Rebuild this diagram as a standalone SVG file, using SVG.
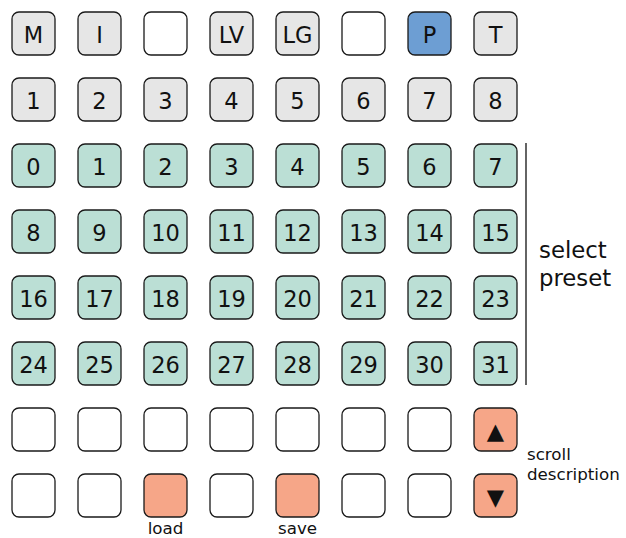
<svg xmlns="http://www.w3.org/2000/svg" width="626" height="538" viewBox="0 0 626 538">
<style>
.b{stroke:#1a1a1a;stroke-width:1.3}
.g{fill:#e6e6e6}.t{fill:#bbdfd5}.w{fill:#ffffff}.p{fill:#6d9ed3}.o{fill:#f6a688}
.l{font-family:"DejaVu Sans",Verdana,sans-serif;font-size:22.5px;fill:#111;text-anchor:middle}
.s{font-family:"DejaVu Sans",Verdana,sans-serif;font-size:16.7px;fill:#111}
.s2{font-family:"DejaVu Sans",Verdana,sans-serif;font-size:22.8px;fill:#111}
</style>
<defs>
<rect id="k" width="43" height="43" rx="7" ry="7"/>
</defs>
<g id="row1">
<g id="btn-M"><use href="#k" x="12" y="12" class="b g"/><text class="l" x="33.5" y="42.5">M</text></g>
<g id="btn-I"><use href="#k" x="78" y="12" class="b g"/><text class="l" x="99.5" y="42.5">I</text></g>
<g id="btn-r1c3"><use href="#k" x="144" y="12" class="b w"/></g>
<g id="btn-LV"><use href="#k" x="210" y="12" class="b g"/><text class="l" x="231.5" y="42.5">LV</text></g>
<g id="btn-LG"><use href="#k" x="276" y="12" class="b g"/><text class="l" x="297.5" y="42.5">LG</text></g>
<g id="btn-r1c6"><use href="#k" x="342" y="12" class="b w"/></g>
<g id="btn-P"><use href="#k" x="408" y="12" class="b p"/><text class="l" x="429.5" y="42.5">P</text></g>
<g id="btn-T"><use href="#k" x="474" y="12" class="b g"/><text class="l" x="495.5" y="42.5">T</text></g>
</g>
<g id="row2">
<g id="btn-1"><use href="#k" x="12" y="78" class="b g"/><text class="l" x="33.5" y="108.5">1</text></g>
<g id="btn-2"><use href="#k" x="78" y="78" class="b g"/><text class="l" x="99.5" y="108.5">2</text></g>
<g id="btn-3"><use href="#k" x="144" y="78" class="b g"/><text class="l" x="165.5" y="108.5">3</text></g>
<g id="btn-4"><use href="#k" x="210" y="78" class="b g"/><text class="l" x="231.5" y="108.5">4</text></g>
<g id="btn-5"><use href="#k" x="276" y="78" class="b g"/><text class="l" x="297.5" y="108.5">5</text></g>
<g id="btn-6"><use href="#k" x="342" y="78" class="b g"/><text class="l" x="363.5" y="108.5">6</text></g>
<g id="btn-7"><use href="#k" x="408" y="78" class="b g"/><text class="l" x="429.5" y="108.5">7</text></g>
<g id="btn-8"><use href="#k" x="474" y="78" class="b g"/><text class="l" x="495.5" y="108.5">8</text></g>
</g>
<g id="presets">
<g id="preset-0"><use href="#k" x="12" y="144" class="b t"/><text class="l" x="33.5" y="174.5">0</text></g>
<g id="preset-1"><use href="#k" x="78" y="144" class="b t"/><text class="l" x="99.5" y="174.5">1</text></g>
<g id="preset-2"><use href="#k" x="144" y="144" class="b t"/><text class="l" x="165.5" y="174.5">2</text></g>
<g id="preset-3"><use href="#k" x="210" y="144" class="b t"/><text class="l" x="231.5" y="174.5">3</text></g>
<g id="preset-4"><use href="#k" x="276" y="144" class="b t"/><text class="l" x="297.5" y="174.5">4</text></g>
<g id="preset-5"><use href="#k" x="342" y="144" class="b t"/><text class="l" x="363.5" y="174.5">5</text></g>
<g id="preset-6"><use href="#k" x="408" y="144" class="b t"/><text class="l" x="429.5" y="174.5">6</text></g>
<g id="preset-7"><use href="#k" x="474" y="144" class="b t"/><text class="l" x="495.5" y="174.5">7</text></g>
<g id="preset-8"><use href="#k" x="12" y="210" class="b t"/><text class="l" x="33.5" y="240.5">8</text></g>
<g id="preset-9"><use href="#k" x="78" y="210" class="b t"/><text class="l" x="99.5" y="240.5">9</text></g>
<g id="preset-10"><use href="#k" x="144" y="210" class="b t"/><text class="l" x="165.5" y="240.5">10</text></g>
<g id="preset-11"><use href="#k" x="210" y="210" class="b t"/><text class="l" x="231.5" y="240.5">11</text></g>
<g id="preset-12"><use href="#k" x="276" y="210" class="b t"/><text class="l" x="297.5" y="240.5">12</text></g>
<g id="preset-13"><use href="#k" x="342" y="210" class="b t"/><text class="l" x="363.5" y="240.5">13</text></g>
<g id="preset-14"><use href="#k" x="408" y="210" class="b t"/><text class="l" x="429.5" y="240.5">14</text></g>
<g id="preset-15"><use href="#k" x="474" y="210" class="b t"/><text class="l" x="495.5" y="240.5">15</text></g>
<g id="preset-16"><use href="#k" x="12" y="276" class="b t"/><text class="l" x="33.5" y="306.5">16</text></g>
<g id="preset-17"><use href="#k" x="78" y="276" class="b t"/><text class="l" x="99.5" y="306.5">17</text></g>
<g id="preset-18"><use href="#k" x="144" y="276" class="b t"/><text class="l" x="165.5" y="306.5">18</text></g>
<g id="preset-19"><use href="#k" x="210" y="276" class="b t"/><text class="l" x="231.5" y="306.5">19</text></g>
<g id="preset-20"><use href="#k" x="276" y="276" class="b t"/><text class="l" x="297.5" y="306.5">20</text></g>
<g id="preset-21"><use href="#k" x="342" y="276" class="b t"/><text class="l" x="363.5" y="306.5">21</text></g>
<g id="preset-22"><use href="#k" x="408" y="276" class="b t"/><text class="l" x="429.5" y="306.5">22</text></g>
<g id="preset-23"><use href="#k" x="474" y="276" class="b t"/><text class="l" x="495.5" y="306.5">23</text></g>
<g id="preset-24"><use href="#k" x="12" y="342" class="b t"/><text class="l" x="33.5" y="372.5">24</text></g>
<g id="preset-25"><use href="#k" x="78" y="342" class="b t"/><text class="l" x="99.5" y="372.5">25</text></g>
<g id="preset-26"><use href="#k" x="144" y="342" class="b t"/><text class="l" x="165.5" y="372.5">26</text></g>
<g id="preset-27"><use href="#k" x="210" y="342" class="b t"/><text class="l" x="231.5" y="372.5">27</text></g>
<g id="preset-28"><use href="#k" x="276" y="342" class="b t"/><text class="l" x="297.5" y="372.5">28</text></g>
<g id="preset-29"><use href="#k" x="342" y="342" class="b t"/><text class="l" x="363.5" y="372.5">29</text></g>
<g id="preset-30"><use href="#k" x="408" y="342" class="b t"/><text class="l" x="429.5" y="372.5">30</text></g>
<g id="preset-31"><use href="#k" x="474" y="342" class="b t"/><text class="l" x="495.5" y="372.5">31</text></g>
</g>
<g id="row7">
<g id="btn-r7c1"><use href="#k" x="12" y="408" class="b w"/></g>
<g id="btn-r7c2"><use href="#k" x="78" y="408" class="b w"/></g>
<g id="btn-r7c3"><use href="#k" x="144" y="408" class="b w"/></g>
<g id="btn-r7c4"><use href="#k" x="210" y="408" class="b w"/></g>
<g id="btn-r7c5"><use href="#k" x="276" y="408" class="b w"/></g>
<g id="btn-r7c6"><use href="#k" x="342" y="408" class="b w"/></g>
<g id="btn-r7c7"><use href="#k" x="408" y="408" class="b w"/></g>
<g id="btn-up"><use href="#k" x="474" y="408" class="b o"/><text class="l" x="495.5" y="439">▲</text></g>
</g>
<g id="row8">
<g id="btn-r8c1"><use href="#k" x="12" y="474" class="b w"/></g>
<g id="btn-r8c2"><use href="#k" x="78" y="474" class="b w"/></g>
<g id="btn-load"><use href="#k" x="144" y="474" class="b o"/><text class="s" x="165.5" y="534" text-anchor="middle">load</text></g>
<g id="btn-r8c4"><use href="#k" x="210" y="474" class="b w"/></g>
<g id="btn-save"><use href="#k" x="276" y="474" class="b o"/><text class="s" x="297.5" y="534" text-anchor="middle">save</text></g>
<g id="btn-r8c6"><use href="#k" x="342" y="474" class="b w"/></g>
<g id="btn-r8c7"><use href="#k" x="408" y="474" class="b w"/></g>
<g id="btn-down"><use href="#k" x="474" y="474" class="b o"/><text class="l" x="495.5" y="505">▼</text></g>
</g>
<g id="connectors">
<line x1="526" y1="143" x2="526" y2="385" stroke="#111" stroke-width="1.3"/>
</g>
<g id="labels">
<text class="s2" x="539" y="258">select</text>
<text class="s2" x="539" y="286">preset</text>
<text class="s" x="527" y="460">scroll</text>
<text class="s" x="527" y="480">description</text>
</g>
</svg>
